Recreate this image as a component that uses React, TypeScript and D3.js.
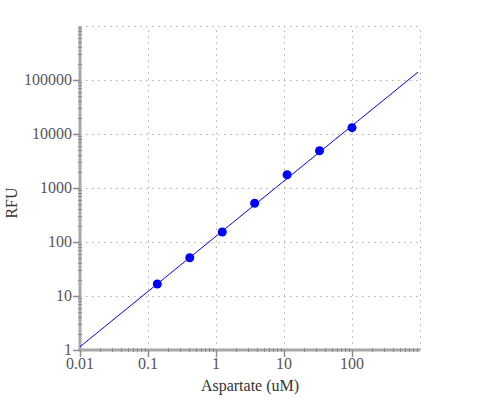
import React, { useRef, useEffect } from 'react';
import * as d3 from 'd3';

// serial 3-fold dilution from 100 uM
const concentrations: number[] = [0.137, 0.4115, 1.235, 3.7, 11.1, 33.3, 100];
const rfu: number[] = [16.7, 51.2, 153, 521, 1763, 4900, 13090];

// fitted line end points
const fitX: number[] = [0.01, 935];
const fitY: number[] = [1.15, 140000];

const xTicks: number[] = [0.01, 0.1, 1, 10, 100];
const xTickLabels: string[] = ['0.01', '0.1', '1', '10', '100'];
const yTicks: number[] = [1, 10, 100, 1000, 10000, 100000];
const yTickLabels: string[] = ['1', '10', '100', '1000', '10000', '100000'];

const App: React.FC = () => {
  const svgRef = useRef<SVGSVGElement | null>(null);

  useEffect(() => {
    const svg = d3.select(svgRef.current!);
    svg.selectAll('*').remove();

    const font = '"Liberation Serif", "Times New Roman", serif';
    const x = d3.scaleLog().domain([0.01, 1000]).range([80, 420]);
    const y = d3.scaleLog().domain([1, 1e6]).range([350, 26]);

    // grid
    const grid = svg.append('g')
      .attr('stroke', '#b0b0b0')
      .attr('stroke-width', 1)
      .attr('stroke-dasharray', '1.5,4.5');
    grid.selectAll('line.gx')
      .data([...xTicks, 1000])
      .enter().append('line')
      .attr('x1', (d) => Math.round(x(d)) + 0.5)
      .attr('x2', (d) => Math.round(x(d)) + 0.5)
      .attr('y1', 350)
      .attr('y2', 26);
    grid.selectAll('line.gy')
      .data([...yTicks, 1e6])
      .enter().append('line')
      .attr('y1', (d) => Math.round(y(d)) + 0.5)
      .attr('y2', (d) => Math.round(y(d)) + 0.5)
      .attr('x1', 80)
      .attr('x2', 420);

    // minor ticks
    const minorX: number[] = [];
    for (let e = -2; e < 3; e++) for (let m = 2; m < 10; m++) minorX.push(m * Math.pow(10, e));
    const minorY: number[] = [];
    for (let e = 0; e < 6; e++) for (let m = 2; m < 10; m++) minorY.push(m * Math.pow(10, e));

    // axis lines
    svg.append('line')
      .attr('x1', 80).attr('x2', 80).attr('y1', 26).attr('y2', 351)
      .attr('stroke', '#a8a8a8').attr('stroke-width', 3);
    svg.append('line')
      .attr('x1', 79).attr('x2', 420).attr('y1', 350).attr('y2', 350)
      .attr('stroke', '#a8a8a8').attr('stroke-width', 3);

    svg.append('g').selectAll('line')
      .data(minorY)
      .enter().append('line')
      .attr('x1', 78).attr('x2', 82)
      .attr('y1', (d) => Math.round(y(d)) + 0.5)
      .attr('y2', (d) => Math.round(y(d)) + 0.5)
      .attr('stroke', '#8c8c8c');
    svg.append('g').selectAll('line')
      .data(minorX)
      .enter().append('line')
      .attr('y1', 348).attr('y2', 352)
      .attr('x1', (d) => Math.round(x(d)) + 0.5)
      .attr('x2', (d) => Math.round(x(d)) + 0.5)
      .attr('stroke', '#8c8c8c');

    // major ticks + labels
    const yt = svg.append('g');
    yt.selectAll('line')
      .data(yTicks)
      .enter().append('line')
      .attr('x1', 73).attr('x2', 80)
      .attr('y1', (d) => Math.round(y(d)) + 0.5)
      .attr('y2', (d) => Math.round(y(d)) + 0.5)
      .attr('stroke', '#8c8c8c').attr('stroke-width', 1.5);
    yt.selectAll('text')
      .data(yTicks)
      .enter().append('text')
      .attr('x', 72)
      .attr('y', (d) => y(d) + 5)
      .attr('text-anchor', 'end')
      .attr('font-family', font)
      .attr('font-size', 16)
      .attr('fill', '#555')
      .text((d, i) => yTickLabels[i]);

    const xt = svg.append('g');
    xt.selectAll('line')
      .data(xTicks)
      .enter().append('line')
      .attr('y1', 350).attr('y2', 357)
      .attr('x1', (d) => Math.round(x(d)) + 0.5)
      .attr('x2', (d) => Math.round(x(d)) + 0.5)
      .attr('stroke', '#8c8c8c').attr('stroke-width', 1.5);
    xt.selectAll('text')
      .data(xTicks)
      .enter().append('text')
      .attr('x', (d) => x(d))
      .attr('y', 369)
      .attr('text-anchor', 'middle')
      .attr('font-family', font)
      .attr('font-size', 16)
      .attr('fill', '#555')
      .text((d, i) => xTickLabels[i]);

    // axis titles
    svg.append('text')
      .attr('x', 250).attr('y', 391)
      .attr('text-anchor', 'middle')
      .attr('font-family', font)
      .attr('font-size', 16)
      .attr('fill', '#333')
      .text('Aspartate (uM)');
    svg.append('text')
      .attr('transform', 'translate(17,203) rotate(-90)')
      .attr('text-anchor', 'middle')
      .attr('font-family', font)
      .attr('font-size', 16)
      .attr('fill', '#333')
      .text('RFU');

    // fit line
    const line = d3.line<number>()
      .x((d) => x(d))
      .y((d, i) => y(fitY[i]));
    svg.append('path')
      .attr('d', line(fitX)!)
      .attr('fill', 'none')
      .attr('stroke', '#0000ff')
      .attr('stroke-width', 1);

    // points
    svg.append('g').selectAll('circle')
      .data(concentrations)
      .enter().append('circle')
      .attr('cx', (d) => x(d))
      .attr('cy', (d, i) => y(rfu[i]))
      .attr('r', 4.5)
      .attr('fill', '#0000ff');
  }, []);

  return <svg ref={svgRef} width={500} height={400} style={{ position: 'absolute', left: 0, top: 0 }}></svg>;
};

export default App;
